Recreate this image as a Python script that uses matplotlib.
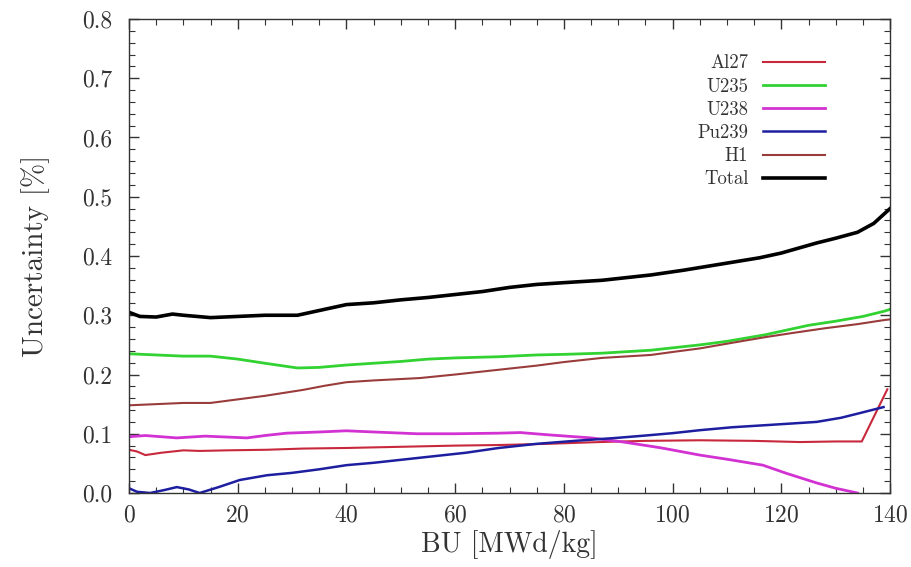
import matplotlib
matplotlib.use("Agg")
import matplotlib.pyplot as plt
from matplotlib.ticker import MultipleLocator

plt.rcParams['font.family'] = ['cmr10', 'DejaVu Serif']
plt.rcParams['axes.formatter.use_mathtext'] = True
plt.rcParams['mathtext.fontset'] = 'cm'

# Data
tot_x = [0, 2, 5, 8, 10, 15, 20, 25, 31, 35, 40, 45, 50, 55, 60, 65, 70, 75, 80, 87, 90, 96, 102, 108, 116, 120, 126.5, 130, 134, 137, 140]
tot_y = [0.305, 0.298, 0.297, 0.302, 0.300, 0.296, 0.298, 0.300, 0.300, 0.308, 0.318, 0.321, 0.326, 0.330, 0.335, 0.340, 0.347, 0.352, 0.355, 0.359, 0.362, 0.368, 0.376, 0.385, 0.397, 0.405, 0.422, 0.430, 0.440, 0.455, 0.480]

u235_x = [0, 5, 10, 15, 20, 25, 31, 35, 40, 45, 50, 55, 60, 68, 75, 80, 87, 96, 100, 105, 110, 117, 120, 125, 130, 135, 139, 140]
u235_y = [0.235, 0.233, 0.231, 0.231, 0.226, 0.219, 0.211, 0.212, 0.216, 0.219, 0.222, 0.226, 0.228, 0.230, 0.233, 0.234, 0.236, 0.241, 0.245, 0.250, 0.256, 0.267, 0.273, 0.283, 0.290, 0.298, 0.307, 0.310]

h1_x = [0, 5, 10, 15, 20, 25, 32, 36, 40, 45, 53.5, 60, 68, 75, 80, 87, 96, 100, 105, 110, 117, 122, 128, 134, 139, 140]
h1_y = [0.148, 0.150, 0.152, 0.152, 0.158, 0.164, 0.174, 0.181, 0.187, 0.190, 0.194, 0.200, 0.208, 0.215, 0.221, 0.228, 0.233, 0.238, 0.244, 0.252, 0.263, 0.270, 0.278, 0.285, 0.292, 0.293]

u238_x = [0, 3, 8.8, 14, 21.7, 25, 29, 35, 40, 45, 53, 60, 68, 72, 77.4, 85, 91, 98, 105, 110, 116.6, 121, 126.5, 130, 134]
u238_y = [0.095, 0.097, 0.093, 0.096, 0.093, 0.097, 0.101, 0.103, 0.105, 0.103, 0.100, 0.100, 0.101, 0.102, 0.098, 0.093, 0.086, 0.076, 0.064, 0.057, 0.047, 0.033, 0.017, 0.008, 0.000]

pu239_x = [0, 1.5, 3.9, 6.5, 8.8, 11, 13, 16.5, 20.4, 25.4, 30, 35, 40, 45, 50, 56, 62, 68, 75, 82, 89.7, 95, 100, 105, 111, 118, 126.5, 131, 134.5, 138.8]
pu239_y = [0.008, 0.002, 0.000, 0.005, 0.010, 0.006, 0.000, 0.010, 0.022, 0.030, 0.034, 0.040, 0.047, 0.051, 0.056, 0.062, 0.068, 0.076, 0.083, 0.088, 0.093, 0.097, 0.101, 0.106, 0.111, 0.115, 0.120, 0.127, 0.135, 0.145]

al27_x = [0, 1.5, 3, 6, 10, 13, 18, 25.4, 32, 40, 50, 60, 68, 77, 86.6, 95, 105, 115, 123.4, 130, 134.8, 139.5]
al27_y = [0.073, 0.070, 0.064, 0.068, 0.072, 0.071, 0.072, 0.073, 0.075, 0.076, 0.078, 0.080, 0.081, 0.083, 0.086, 0.088, 0.089, 0.088, 0.086, 0.087, 0.087, 0.175]

fig = plt.figure(figsize=(9.11, 5.67), dpi=100)
ax = fig.add_axes([0.1416, 0.1305, 0.9770 - 0.1416, 0.9665 - 0.1305])

l_al, = ax.plot(al27_x, al27_y, color='#c8283c', lw=1.5, label='Al27')
l_u5, = ax.plot(u235_x, u235_y, color='#32d232', lw=2.0, label='U235')
l_u8, = ax.plot(u238_x, u238_y, color='#d232d2', lw=2.0, label='U238')
l_pu, = ax.plot(pu239_x, pu239_y, color='#1e1ea0', lw=1.8, label='Pu239')
l_h1, = ax.plot(h1_x, h1_y, color='#9a3c3c', lw=1.5, label='H1')
l_t, = ax.plot(tot_x, tot_y, color='black', lw=2.6, label='Total')

ax.set_xlim(0, 140)
ax.set_ylim(0, 0.8)
ax.xaxis.set_major_locator(MultipleLocator(20))
ax.xaxis.set_minor_locator(MultipleLocator(5))
ax.yaxis.set_major_locator(MultipleLocator(0.1))
ax.yaxis.set_minor_locator(MultipleLocator(0.02))
ax.yaxis.set_major_formatter(matplotlib.ticker.FormatStrFormatter('%.1f'))
ax.tick_params(which='both', direction='in', top=True, right=True, labelsize=17, colors='#333333')
ax.tick_params(which='major', length=7, width=1)
ax.tick_params(axis='y', which='major', pad=12)
ax.tick_params(axis='x', which='major', pad=8)
ax.tick_params(which='minor', length=4, width=0.8)
for s in ax.spines.values():
    s.set_color('#333333')
    s.set_linewidth(1)

ax.set_xlabel('BU [MWd/kg]', fontsize=20, color='#333333')
ax.set_ylabel('Uncertainty [%]', fontsize=21, color='#333333')
ax.xaxis.set_label_coords(0.5, (493 - 530) / 474)
ax.yaxis.set_label_coords((50 - 129) / 761, 0.5)

leg = ax.legend(handles=[l_al, l_u5, l_u8, l_pu, l_h1, l_t], loc='upper left',
                bbox_to_anchor=(690/911, 1 - 47/567), bbox_transform=fig.transFigure,
                frameon=False, markerfirst=False, fontsize=13.5, handlelength=3.3,
                handletextpad=0.8, labelspacing=0.28, borderaxespad=0)
for t in leg.get_texts():
    t.set_ha('right')
    t.set_color('#333333')

fig.savefig('out.png', dpi=100)
